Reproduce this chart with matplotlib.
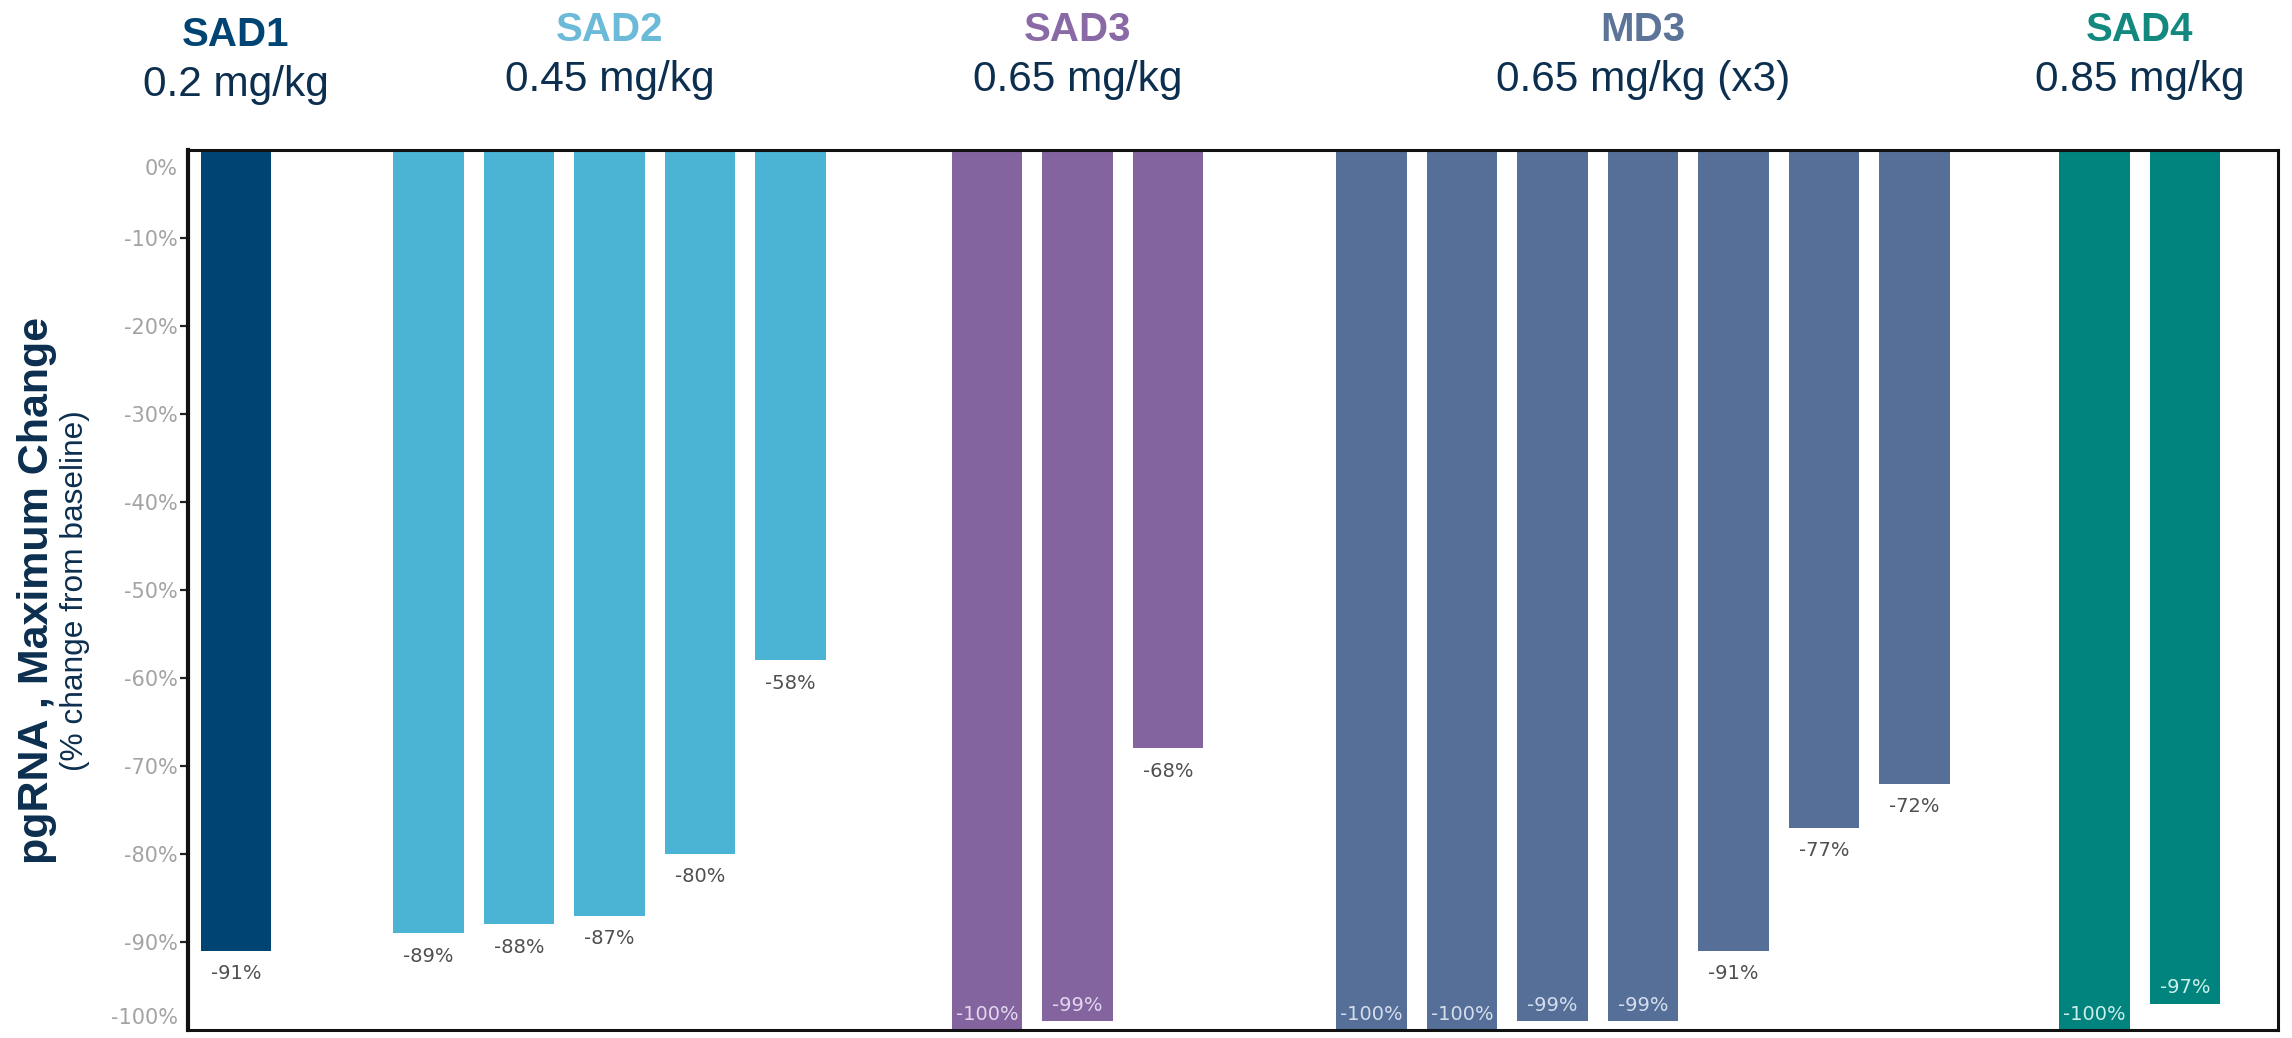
import matplotlib
matplotlib.use("Agg")
import matplotlib.pyplot as plt
from matplotlib.transforms import blended_transform_factory

# --- data ---
groups = ["SAD1", "SAD2", "SAD3", "MD3", "SAD4"]
doses = ["0.2 mg/kg", "0.45 mg/kg", "0.65 mg/kg", "0.65 mg/kg (x3)", "0.85 mg/kg"]
sad1 = [-91]
sad2 = [-89, -88, -87, -80, -58]
sad3 = [-100, -99, -68]
md3 = [-100, -100, -99, -99, -91, -77, -72]
sad4 = [-100, -97]
yticks = [-10, -20, -30, -40, -50, -60, -70, -80, -90]
ytick_ends = [0, -100]

# --- style ---
bar_colors = ["#004474", "#4bb3d3", "#83649f", "#556f98", "#00847d"]
head_colors = ["#004474", "#6bbad8", "#8a6aa6", "#5d7499", "#13887f"]
inside_colors = ["#d8e2ee", "#e6f4fa", "#e3d6ef", "#d6deec", "#cdeeea"]
NAVY = "#0c2f4f"
TICK_GREY = "#a3a3a3"
ARIAL = ["Liberation Sans", "DejaVu Sans"]
gaps = [0, 2.13, 2.17, 2.25, 1.99]  # space before each group, in bar slots
BAR_W = 0.78

fig = plt.figure(figsize=(22.92, 10.38), dpi=100)
ax = fig.add_axes([188 / 2292, 1 - 1030 / 1038, 2090 / 2292, 880 / 1038])
trans = blended_transform_factory(ax.transData, ax.transAxes)
ytrans = blended_transform_factory(ax.transAxes, ax.transData)

series = [sad1, sad2, sad3, md3, sad4]
x0 = 0.0
for i, vals in enumerate(series):
    x0 += gaps[i]
    xs = [x0 + k for k in range(len(vals))]
    ax.bar(xs, vals, width=BAR_W, color=bar_colors[i], align="center", zorder=2)
    for x, v in zip(xs, vals):
        if v <= -97:
            ax.annotate(f"{v}%", (x, v), xytext=(0, 11.5), textcoords="offset points",
                        ha="center", va="center", fontsize=14, color=inside_colors[i],
                        family="DejaVu Sans", zorder=3)
        else:
            ax.annotate(f"{v}%", (x, v), xytext=(0, -16.5), textcoords="offset points",
                        ha="center", va="center", fontsize=14, color="#4f4f4f",
                        family="DejaVu Sans", zorder=3)
    xc = sum(xs) / len(xs)
    dy = -0.005 if i == 0 else 0
    ax.text(xc, 1.136 + dy, groups[i], transform=trans, ha="center", va="center",
            fontsize=29, fontweight="bold", color=head_colors[i], family=ARIAL)
    ax.text(xc, 1.079 + dy, doses[i], transform=trans, ha="center", va="center",
            fontsize=30.5, color=NAVY, family=ARIAL)
    x0 = xs[-1]

ax.set_xlim(-0.53, 22.57)
ax.set_ylim(-100, 0)
ax.set_xticks([])
ax.set_yticks(yticks)
ax.set_yticklabels([f"{t}%" for t in yticks], fontsize=15, color=TICK_GREY, family="DejaVu Sans")
ax.tick_params(axis="y", length=6, width=1.6, pad=1.5, color="#222222")
# 0% and -100% sit inside the frame, without tick marks
for t, dyp in zip(ytick_ends, [-14, 9]):
    ax.annotate(f"{t}%", (0, t), xycoords=ytrans, xytext=(-7.2, dyp), textcoords="offset points",
                ha="right", va="center", fontsize=15, color=TICK_GREY, family="DejaVu Sans")
for side, sp in ax.spines.items():
    sp.set_linewidth(2.2)
    sp.set_color("#111111")
ax.spines["left"].set_linewidth(3)

fig.text(37 / 2292, 1 - 590 / 1038, "pgRNA , Maximum Change", rotation=90,
         ha="center", va="center", fontsize=31, fontweight="bold", color=NAVY, family=ARIAL)
fig.text(75 / 2292, 1 - 591 / 1038, "(% change from baseline)", rotation=90,
         ha="center", va="center", fontsize=22.8, color=NAVY, family=ARIAL)

fig.savefig("out.png", dpi=100)
